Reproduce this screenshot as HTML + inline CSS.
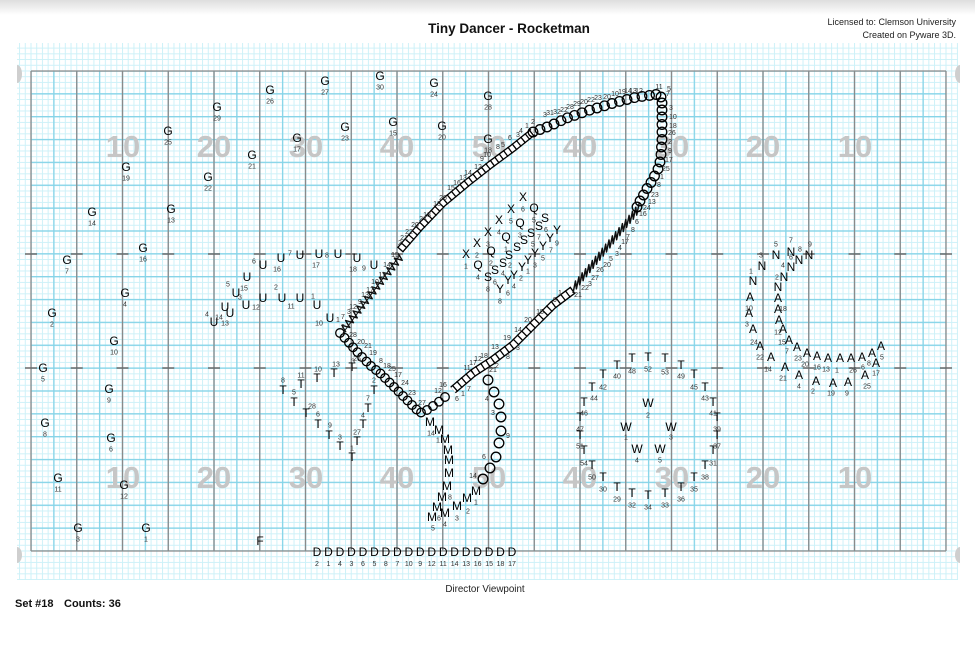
<!DOCTYPE html>
<html><head><meta charset="utf-8">
<style>
html,body{margin:0;padding:0;background:#fff;}
body{width:975px;height:658px;overflow:hidden;}
svg{display:block;}
text{font-family:"Liberation Sans",Arial,sans-serif;}
.L{font-size:12px;fill:#000;text-anchor:middle;}
.n{font-size:7px;fill:#333;text-anchor:middle;}
.s{font-size:7px;fill:#333;text-anchor:start;}
.y{font-size:31px;font-weight:bold;fill:#c6c6c6;text-anchor:middle;}
</style></head>
<body>
<svg width="975" height="658" viewBox="0 0 975 658" xmlns="http://www.w3.org/2000/svg">
<defs>
<linearGradient id="tg" x1="0" y1="0" x2="0" y2="1"><stop offset="0" stop-color="#dedede"/><stop offset="1" stop-color="#fff"/></linearGradient>
<pattern id="fine" x="30.5" y="70.5" width="5.71875" height="5.7142857" patternUnits="userSpaceOnUse"><path d="M0 0.5H6M0.5 0V6" stroke="#cdf1f8" stroke-width="1" fill="none"/></pattern>
<pattern id="med" x="30.3" y="70.3" width="22.875" height="22.857" patternUnits="userSpaceOnUse"><path d="M0 0.7H23M0.7 0V23" stroke="#86d4e8" stroke-width="1.3" fill="none"/></pattern>
</defs>
<rect x="0" y="0" width="975" height="15" fill="url(#tg)"/>
<rect x="17" y="43" width="941" height="537" fill="url(#fine)"/>
<rect x="31" y="71" width="915" height="480" fill="url(#med)"/>
<g stroke="#8a8a8a" stroke-width="1.3">
<line x1="31" y1="71" x2="946" y2="71"/><line x1="31" y1="551" x2="946" y2="551"/>
<line x1="31" y1="71" x2="31" y2="551"/><line x1="76.75" y1="71" x2="76.75" y2="551"/><line x1="122.5" y1="71" x2="122.5" y2="551"/><line x1="168.25" y1="71" x2="168.25" y2="551"/><line x1="214" y1="71" x2="214" y2="551"/><line x1="259.75" y1="71" x2="259.75" y2="551"/><line x1="305.5" y1="71" x2="305.5" y2="551"/><line x1="351.25" y1="71" x2="351.25" y2="551"/><line x1="397" y1="71" x2="397" y2="551"/><line x1="442.75" y1="71" x2="442.75" y2="551"/><line x1="488.5" y1="71" x2="488.5" y2="551"/><line x1="534.25" y1="71" x2="534.25" y2="551"/><line x1="580" y1="71" x2="580" y2="551"/><line x1="625.75" y1="71" x2="625.75" y2="551"/><line x1="671.5" y1="71" x2="671.5" y2="551"/><line x1="717.25" y1="71" x2="717.25" y2="551"/><line x1="763" y1="71" x2="763" y2="551"/><line x1="808.75" y1="71" x2="808.75" y2="551"/><line x1="854.5" y1="71" x2="854.5" y2="551"/><line x1="900.25" y1="71" x2="900.25" y2="551"/><line x1="946" y1="71" x2="946" y2="551"/>
</g>
<g stroke="#6a6a6a" stroke-width="1.4">
<path d="M25 254H37M70.75 254H82.75M116.5 254H128.5M162.25 254H174.25M208 254H220M253.75 254H265.75M299.5 254H311.5M345.25 254H357.25M391 254H403M436.75 254H448.75M482.5 254H494.5M528.25 254H540.25M574 254H586M619.75 254H631.75M665.5 254H677.5M711.25 254H723.25M757 254H769M802.75 254H814.75M848.5 254H860.5M894.25 254H906.25M940 254H952"/>
<path d="M25 368H37M70.75 368H82.75M116.5 368H128.5M162.25 368H174.25M208 368H220M253.75 368H265.75M299.5 368H311.5M345.25 368H357.25M391 368H403M436.75 368H448.75M482.5 368H494.5M528.25 368H540.25M574 368H586M619.75 368H631.75M665.5 368H677.5M711.25 368H723.25M757 368H769M802.75 368H814.75M848.5 368H860.5M894.25 368H906.25M940 368H952"/>
</g>
<g fill="#cfcfcf">
<path d="M17 65A5 9 0 0 1 17 83Z"/><path d="M17 547A5 8 0 0 1 17 563Z"/>
<path d="M960 65A5 9 0 0 0 960 83Z"/><path d="M960 547A5 8 0 0 0 960 563Z"/>
</g>
<!-- yard numbers -->
<text class="y" x="123" y="157">10</text><text class="y" x="214" y="157">20</text><text class="y" x="306" y="157">30</text><text class="y" x="397" y="157">40</text><text class="y" x="489" y="157">50</text><text class="y" x="580" y="157">40</text><text class="y" x="672" y="157">30</text><text class="y" x="763" y="157">20</text><text class="y" x="855" y="157">10</text>
<text class="y" x="123" y="488">10</text><text class="y" x="214" y="488">20</text><text class="y" x="306" y="488">30</text><text class="y" x="397" y="488">40</text><text class="y" x="489" y="488">50</text><text class="y" x="580" y="488">40</text><text class="y" x="672" y="488">30</text><text class="y" x="763" y="488">20</text><text class="y" x="855" y="488">10</text>

<!-- titles -->
<text x="509" y="33" style="font-size:13.5px;font-weight:bold;fill:#111;text-anchor:middle">Tiny Dancer - Rocketman</text>
<text x="956" y="25" style="font-size:9px;fill:#222;text-anchor:end">Licensed to: Clemson University</text>
<text x="956" y="38" style="font-size:9px;fill:#222;text-anchor:end">Created on Pyware 3D.</text>
<text x="485" y="592" style="font-size:9.8px;fill:#222;text-anchor:middle">Director Viewpoint</text>
<text x="15" y="607" style="font-size:11px;font-weight:bold;fill:#111">Set #18</text>
<text x="64" y="607" style="font-size:11px;font-weight:bold;fill:#111">Counts: 36</text>

<!-- ladder chains (squares) -->
<g fill="none" stroke-linejoin="round">
<path d="M400,250 L420,227 L443,203 L467,183 L490,165 L513,148 L533,132" stroke="#000" stroke-width="8"/>
<path d="M400,250 L420,227 L443,203 L467,183 L490,165 L513,148 L533,132" stroke="#fff" stroke-width="5.4"/>
<path d="M400,250 L420,227 L443,203 L467,183 L490,165 L513,148 L533,132" stroke="#000" stroke-width="8" stroke-dasharray="1.3 4.2"/>
<path d="M573,290 L553,305 L533,325 L513,345 L493,360 L473,373 L453,390" stroke="#000" stroke-width="8.6"/>
<path d="M573,290 L553,305 L533,325 L513,345 L493,360 L473,373 L453,390" stroke="#fff" stroke-width="6"/>
<path d="M573,290 L553,305 L533,325 L513,345 L493,360 L473,373 L453,390" stroke="#000" stroke-width="8.6" stroke-dasharray="1.3 4.6"/>
<polyline stroke="#111" stroke-width="1.5" points="573,293 575.5,281 576.4,288.9 578.9,276.9 579.7,284.8 582.2,272.8 583.1,280.7 585.6,268.7 586.4,276.6 588.9,264.6 589.8,272.5 592.3,260.5 593.1,268.4 595.6,256.4 596.5,264.3 599,252.3 599.8,260.2 602.3,248.2 603.2,256.1 605.7,244.1 606.5,252 609,240 609.9,247.9 612.4,235.9 613.2,243.8 615.7,231.8 616.6,239.7 619.1,227.7 619.9,235.6 622.4,223.6 623.3,231.5 625.8,219.5 626.6,227.4 629.1,215.4 630,223.3 632.5,211.3 633.3,219.2 635.8,207.2 636.7,215.1 639.2,203.1"/>
<polyline stroke="#111" stroke-width="1.4" points="346,332.3 341.9,325.3 349.75,327.5 345.6,320.5 353.5,322.7 349.4,315.7 357.25,317.9 353.1,310.9 361,313.1 356.9,306.1 364.75,308.3 360.6,301.3 368.5,303.5 364.4,296.5 372.25,298.7 368.1,291.7 376,293.9 371.9,286.9 379.75,289.1 375.6,282.1 383.5,284.3 379.4,277.3 387.25,279.5 383.1,272.5 391,274.7 386.9,267.7 394.75,269.9 390.6,262.9 398.5,265.1 394.4,258.1 402.25,260.3 398.1,253.3"/>
<polyline stroke="#111" stroke-width="1" points="343,333 400,255"/>
</g>
<!-- circle chains -->
<g fill="none" stroke="#000" stroke-width="1.3">
<circle cx="533" cy="132" r="4.8"/><circle cx="540" cy="129.5" r="4.8"/><circle cx="547" cy="127" r="4.8"/><circle cx="554" cy="124" r="4.8"/><circle cx="561" cy="120.7" r="4.8"/><circle cx="567.5" cy="117.8" r="4.8"/><circle cx="574.5" cy="115.4" r="4.8"/><circle cx="582" cy="112.8" r="4.8"/><circle cx="589.5" cy="110.2" r="4.8"/><circle cx="597" cy="108" r="4.8"/><circle cx="604.5" cy="105.8" r="4.8"/><circle cx="612" cy="103.5" r="4.8"/><circle cx="619.5" cy="101.4" r="4.8"/><circle cx="627" cy="99.5" r="4.8"/><circle cx="634.5" cy="97.6" r="4.8"/><circle cx="642" cy="96.4" r="4.8"/><circle cx="649.5" cy="95.4" r="4.8"/><circle cx="656" cy="94.5" r="4.8"/><circle cx="661" cy="97" r="4.8"/><circle cx="662" cy="103" r="4.8"/><circle cx="662" cy="110" r="4.8"/><circle cx="662" cy="117" r="4.8"/><circle cx="662" cy="124.5" r="4.8"/><circle cx="662" cy="132" r="4.8"/><circle cx="662" cy="139.5" r="4.8"/><circle cx="661.5" cy="147" r="4.8"/><circle cx="661" cy="154.5" r="4.8"/><circle cx="660" cy="162" r="4.8"/><circle cx="658" cy="169" r="4.8"/><circle cx="654.5" cy="176" r="4.8"/><circle cx="651" cy="182.5" r="4.8"/><circle cx="647" cy="188.5" r="4.8"/><circle cx="643.5" cy="195" r="4.8"/><circle cx="640" cy="201" r="4.8"/><circle cx="637" cy="207" r="4.8"/>
<circle cx="340" cy="333" r="4.3"/><circle cx="344.5" cy="337.8" r="4.3"/><circle cx="349" cy="342.7" r="4.3"/><circle cx="353" cy="347.3" r="4.3"/><circle cx="357.5" cy="352.2" r="4.3"/><circle cx="362" cy="357" r="4.3"/><circle cx="366.5" cy="361.5" r="4.3"/><circle cx="371" cy="366" r="4.3"/><circle cx="376" cy="370" r="4.3"/><circle cx="380.5" cy="373.5" r="4.3"/><circle cx="385" cy="378" r="4.3"/><circle cx="389.5" cy="382.5" r="4.3"/><circle cx="394" cy="387" r="4.3"/><circle cx="398.5" cy="391.5" r="4.3"/><circle cx="403" cy="396" r="4.3"/><circle cx="407.5" cy="400.5" r="4.3"/><circle cx="412" cy="405" r="4.3"/><circle cx="416.5" cy="409.5" r="4.3"/><circle cx="421" cy="412.5" r="4.3"/><circle cx="427" cy="410" r="4.3"/><circle cx="433" cy="406" r="4.3"/><circle cx="439" cy="401.7" r="4.3"/><circle cx="445" cy="397" r="4.3"/>
<circle cx="488" cy="380" r="4.8"/><circle cx="494" cy="392" r="4.8"/><circle cx="499" cy="404" r="4.8"/><circle cx="501" cy="417" r="4.8"/><circle cx="501" cy="431" r="4.8"/><circle cx="499" cy="443" r="4.8"/><circle cx="496" cy="457" r="4.8"/><circle cx="490" cy="468" r="4.8"/><circle cx="483" cy="479" r="4.8"/>
</g>

<!-- chain labels -->
<g class="n">
<text x="545" y="117">3</text><text x="550" y="115">31</text><text x="557" y="114">32</text><text x="564" y="112">22</text><text x="570" y="109">28</text><text x="577" y="106">29</text><text x="584" y="104">20</text><text x="591" y="102">22</text><text x="598" y="100">23</text><text x="607" y="99">20</text><text x="615" y="96">10</text><text x="622" y="94">19</text><text x="628" y="93">14</text><text x="633" y="93">13</text><text x="639" y="93">12</text><text x="659" y="89">11</text>
<text x="521" y="133">4</text><text x="527" y="128">1</text><text x="533" y="124">2</text><text x="510" y="140">6</text><text x="518" y="137">3</text><text x="498" y="149">8</text><text x="503" y="147">5</text><text x="487" y="157">10</text><text x="482" y="161">9</text><text x="478" y="169">12</text><text x="468" y="175">14</text><text x="463" y="180">13</text><text x="457" y="185">16</text><text x="451" y="190">15</text><text x="443" y="200">26</text><text x="437" y="206">18</text><text x="427" y="217">18</text><text x="423" y="221">24</text><text x="415" y="227">20</text><text x="409" y="234">22</text><text x="404" y="240">21</text><text x="400" y="245">2</text>
<text x="395" y="257">15</text><text x="387" y="267">14</text><text x="382" y="277">11</text><text x="375" y="284">10</text><text x="370" y="292">17</text><text x="365" y="297">13</text><text x="360" y="304">9</text><text x="353" y="309">12</text><text x="349" y="314">3</text><text x="343" y="319">7</text><text x="338" y="322">1</text><text x="343" y="329">2</text>
<text x="353" y="337">28</text><text x="361" y="344">20</text><text x="368" y="348">21</text><text x="373" y="355">19</text><text x="357" y="361">26</text><text x="381" y="363">8</text><text x="387" y="368">18</text><text x="392" y="371">25</text><text x="398" y="377">17</text><text x="405" y="385">24</text><text x="412" y="395">23</text><text x="422" y="405">27</text>
<text x="443" y="387">16</text><text x="438" y="393">12</text><text x="457" y="401">6</text><text x="463" y="396">1</text><text x="469" y="391">7</text><text x="467" y="370">11</text><text x="473" y="365">17</text><text x="478" y="361">12</text><text x="484" y="358">18</text><text x="493" y="372">21</text><text x="497" y="368">2</text><text x="495" y="349">13</text><text x="508" y="359">8</text><text x="507" y="340">19</text><text x="518" y="350">3</text><text x="518" y="332">14</text><text x="528" y="322">20</text><text x="540" y="314">15</text><text x="555" y="302">9</text><text x="560" y="295">1</text><text x="578" y="297">21</text><text x="585" y="290">22</text><text x="590" y="286">3</text><text x="595" y="280">27</text><text x="600" y="272">26</text><text x="607" y="267">20</text><text x="611" y="261">5</text><text x="617" y="256">3</text><text x="620" y="250">4</text><text x="625" y="244">17</text><text x="628" y="239">7</text><text x="633" y="232">8</text><text x="637" y="224">6</text>
<text x="487" y="401">4</text><text x="493" y="415">3</text><text x="508" y="438">9</text><text x="484" y="459">6</text><text x="473" y="478">14</text>
</g>
<g class="s">
<text x="667" y="91">5</text><text x="666" y="96">7</text><text x="669" y="110">3</text><text x="669" y="119">10</text><text x="669" y="128">18</text><text x="668" y="135">26</text><text x="668" y="144">2</text><text x="668" y="153">9</text><text x="665" y="162">17</text><text x="662" y="171">25</text><text x="660" y="179">1</text><text x="657" y="187">8</text><text x="651" y="197">23</text><text x="648" y="204">13</text><text x="643" y="210">24</text><text x="639" y="216">16</text>
</g>

<!-- G's -->
<g class="L">
<text x="270" y="94">G</text><text x="217" y="111">G</text><text x="168" y="135">G</text><text x="126" y="171">G</text><text x="208" y="181">G</text><text x="252" y="159">G</text><text x="297" y="142">G</text><text x="325" y="85">G</text><text x="380" y="80">G</text><text x="434" y="87">G</text><text x="488" y="100">G</text><text x="345" y="131">G</text><text x="393" y="126">G</text><text x="442" y="130">G</text><text x="488" y="143">G</text>
<text x="92" y="216">G</text><text x="171" y="213">G</text><text x="143" y="252">G</text><text x="67" y="264">G</text><text x="125" y="297">G</text><text x="52" y="317">G</text><text x="114" y="345">G</text><text x="43" y="372">G</text><text x="109" y="393">G</text><text x="45" y="427">G</text><text x="111" y="442">G</text><text x="58" y="482">G</text><text x="124" y="489">G</text><text x="78" y="532">G</text><text x="146" y="532">G</text>
<text x="260" y="545">F</text>
</g>
<g class="n">
<text x="270" y="103.5">26</text><text x="217" y="120.5">29</text><text x="168" y="144.5">25</text><text x="126" y="180.5">19</text><text x="208" y="190.5">22</text><text x="252" y="168.5">21</text><text x="297" y="151.5">17</text><text x="325" y="94.5">27</text><text x="380" y="89.5">30</text><text x="434" y="96.5">24</text><text x="488" y="109.5">28</text><text x="345" y="140.5">23</text><text x="393" y="135.5">15</text><text x="442" y="139.5">20</text><text x="488" y="152.5">18</text>
<text x="92" y="225.5">14</text><text x="171" y="222.5">13</text><text x="143" y="261.5">16</text><text x="67" y="273.5">7</text><text x="125" y="306.5">4</text><text x="52" y="326.5">2</text><text x="114" y="354.5">10</text><text x="43" y="381.5">5</text><text x="109" y="402.5">9</text><text x="45" y="436.5">8</text><text x="111" y="451.5">6</text><text x="58" y="491.5">11</text><text x="124" y="498.5">12</text><text x="78" y="541.5">3</text><text x="146" y="541.5">1</text>
</g>

<!-- U's -->
<g class="L">
<text x="263" y="269">U</text><text x="281" y="262">U</text><text x="300" y="259">U</text><text x="319" y="258">U</text><text x="338" y="258">U</text><text x="357" y="262">U</text><text x="374" y="269">U</text><text x="247" y="281">U</text><text x="236" y="297">U</text><text x="246" y="309">U</text><text x="263" y="302">U</text><text x="225" y="311">U</text><text x="230" y="317">U</text><text x="214" y="326">U</text><text x="282" y="302">U</text><text x="300" y="302">U</text><text x="317" y="309">U</text><text x="330" y="322">U</text>
</g>
<g class="n">
<text x="254" y="263.5">6</text><text x="277" y="271.5">16</text><text x="290" y="255.5">7</text><text x="316" y="267.5">17</text><text x="327" y="257.5">8</text><text x="353" y="271.5">18</text><text x="364" y="270.5">9</text><text x="244" y="290.5">15</text><text x="228" y="286.5">5</text><text x="240" y="299.5">3</text><text x="256" y="309.5">12</text><text x="219" y="319.5">14</text><text x="225" y="325.5">13</text><text x="207" y="316.5">4</text><text x="276" y="289.5">2</text><text x="291" y="308.5">11</text><text x="313" y="298.5">1</text><text x="319" y="325.5">10</text>
</g>

<!-- X Q S Y -->
<g class="L">
<text x="523" y="201">X</text><text x="511" y="213">X</text><text x="499" y="224">X</text><text x="488" y="236">X</text><text x="477" y="247">X</text><text x="466" y="258">X</text>
<text x="534" y="212">Q</text><text x="520" y="227">Q</text><text x="506" y="241">Q</text><text x="491" y="255">Q</text><text x="478" y="269">Q</text>
<text x="545" y="222">S</text><text x="539" y="230">S</text><text x="531" y="237">S</text><text x="524" y="244">S</text><text x="517" y="251">S</text><text x="509" y="259">S</text><text x="503" y="267">S</text><text x="495" y="274">S</text><text x="488" y="281">S</text>
<text x="557" y="234">Y</text><text x="550" y="242">Y</text><text x="543" y="250">Y</text><text x="535" y="257">Y</text><text x="528" y="264">Y</text><text x="522" y="271">Y</text><text x="514" y="279">Y</text><text x="508" y="284">Y</text><text x="500" y="293">Y</text>
</g>
<g class="n">
<text x="523" y="211.5">6</text><text x="511" y="223.5">5</text><text x="499" y="234.5">4</text><text x="488" y="246.5">3</text><text x="477" y="257.5">2</text><text x="466" y="268.5">1</text>
<text x="534" y="222.5">5</text><text x="520" y="237.5">3</text><text x="506" y="251.5">1</text><text x="491" y="265.5">2</text><text x="478" y="279.5">4</text>
<text x="546" y="232">6</text><text x="539" y="239.5">7</text><text x="533" y="246.5">5</text><text x="510" y="267.5">2</text><text x="503" y="275.5">4</text><text x="495" y="284.5">6</text><text x="488" y="291.5">8</text>
<text x="557" y="245.5">9</text><text x="551" y="252.5">7</text><text x="543" y="260.5">5</text><text x="535" y="267.5">3</text><text x="528" y="273.5">1</text><text x="521" y="280.5">2</text><text x="514" y="288.5">4</text><text x="508" y="295.5">6</text><text x="500" y="303.5">8</text>
</g>

<!-- left T's -->
<g class="L">
<text x="283" y="394">T</text><text x="301" y="388">T</text><text x="317" y="382">T</text><text x="334" y="377">T</text><text x="352" y="371">T</text><text x="294" y="406">T</text><text x="306" y="417">T</text><text x="318" y="428">T</text><text x="329" y="439">T</text><text x="340" y="450">T</text><text x="352" y="461">T</text><text x="357" y="445">T</text><text x="363" y="428">T</text><text x="368" y="412">T</text><text x="374" y="394">T</text>
</g>
<g class="n">
<text x="283" y="382.5">8</text><text x="301" y="377.5">11</text><text x="318" y="371.5">10</text><text x="336" y="366.5">13</text><text x="353" y="363.5">3</text><text x="294" y="394.5">5</text><text x="312" y="408.5">28</text><text x="318" y="416.5">6</text><text x="330" y="427.5">9</text><text x="340" y="439.5">3</text><text x="352" y="450.5">1</text><text x="357" y="434.5">27</text><text x="363" y="417.5">4</text><text x="368" y="400.5">7</text><text x="374" y="382.5">2</text>
</g>

<!-- M's -->
<g class="L">
<text x="430" y="426">M</text><text x="439" y="434">M</text><text x="445" y="443">M</text><text x="448" y="454">M</text><text x="449" y="464">M</text><text x="449" y="477">M</text><text x="447" y="490">M</text><text x="442" y="501">M</text><text x="437" y="511">M</text><text x="432" y="521">M</text><text x="445" y="517">M</text><text x="457" y="510">M</text><text x="467" y="502">M</text><text x="476" y="495">M</text>
</g>
<g class="n">
<text x="431" y="435.5">14</text><text x="438" y="442.5">1</text><text x="450" y="499.5">8</text><text x="433" y="530.5">5</text><text x="445" y="526.5">4</text><text x="457" y="520.5">3</text><text x="468" y="513.5">2</text><text x="476" y="504.5">1</text><text x="439" y="520.5">6</text>
</g>

<!-- right T's and W's -->
<g class="L">
<text x="632" y="362">T</text><text x="648" y="361">T</text><text x="665" y="362">T</text><text x="617" y="369">T</text><text x="681" y="369">T</text><text x="603" y="378">T</text><text x="694" y="378">T</text><text x="592" y="391">T</text><text x="705" y="391">T</text><text x="584" y="406">T</text><text x="713" y="406">T</text><text x="580" y="421">T</text><text x="717" y="421">T</text><text x="580" y="439">T</text><text x="717" y="439">T</text><text x="584" y="454">T</text><text x="713" y="454">T</text><text x="592" y="469">T</text><text x="705" y="469">T</text><text x="603" y="481">T</text><text x="694" y="481">T</text><text x="617" y="491">T</text><text x="681" y="491">T</text><text x="632" y="497">T</text><text x="665" y="497">T</text><text x="648" y="499">T</text>
<text x="648" y="407">W</text><text x="626" y="431">W</text><text x="671" y="431">W</text><text x="637" y="453">W</text><text x="660" y="453">W</text>
</g>
<g class="n">
<text x="632" y="373.5">48</text><text x="648" y="371.5">52</text><text x="665" y="374.5">53</text><text x="617" y="378.5">40</text><text x="681" y="378.5">49</text><text x="603" y="389.5">42</text><text x="694" y="389.5">45</text><text x="594" y="400.5">44</text><text x="705" y="400.5">43</text><text x="584" y="415.5">46</text><text x="713" y="415.5">41</text><text x="580" y="431.5">47</text><text x="717" y="431.5">39</text><text x="580" y="448.5">51</text><text x="717" y="448.5">37</text><text x="584" y="465.5">54</text><text x="713" y="465.5">31</text><text x="592" y="479.5">50</text><text x="705" y="479.5">38</text><text x="603" y="491.5">30</text><text x="694" y="491.5">35</text><text x="617" y="501.5">29</text><text x="681" y="501.5">36</text><text x="632" y="507.5">32</text><text x="665" y="507.5">33</text><text x="648" y="509.5">34</text>
<text x="648" y="417.5">2</text><text x="626" y="439.5">1</text><text x="671" y="439.5">3</text><text x="637" y="462.5">4</text><text x="660" y="462.5">5</text>
</g>

<!-- N's and A's -->
<g class="L">
<text x="753" y="285">N</text><text x="762" y="270">N</text><text x="776" y="259">N</text><text x="791" y="256">N</text><text x="799" y="264">N</text><text x="809" y="259">N</text><text x="791" y="271">N</text><text x="784" y="281">N</text><text x="778" y="291">N</text>
<text x="750" y="301">A</text><text x="749" y="317">A</text><text x="753" y="333">A</text><text x="760" y="350">A</text><text x="771" y="361">A</text><text x="778" y="302">A</text><text x="778" y="313">A</text><text x="779" y="324">A</text><text x="783" y="333">A</text><text x="789" y="344">A</text><text x="797" y="351">A</text><text x="807" y="357">A</text><text x="817" y="360">A</text><text x="828" y="362">A</text><text x="840" y="362">A</text><text x="851" y="362">A</text><text x="862" y="361">A</text><text x="872" y="357">A</text><text x="881" y="350">A</text><text x="876" y="367">A</text><text x="785" y="371">A</text><text x="799" y="379">A</text><text x="816" y="385">A</text><text x="833" y="387">A</text><text x="848" y="386">A</text><text x="865" y="379">A</text>
</g>
<g class="n">
<text x="751" y="273.5">1</text><text x="761" y="257.5">3</text><text x="776" y="246.5">5</text><text x="791" y="242.5">7</text><text x="800" y="251.5">8</text><text x="810" y="246.5">9</text><text x="791" y="259.5">6</text><text x="783" y="267.5">4</text><text x="777" y="279.5">2</text>
<text x="749" y="310.5">10</text><text x="747" y="326.5">3</text><text x="754" y="344.5">24</text><text x="760" y="359.5">22</text><text x="768" y="371.5">14</text><text x="783" y="311">18</text><text x="778" y="334.5">12</text><text x="782" y="344.5">15</text><text x="787" y="353.5">7</text><text x="798" y="360.5">23</text><text x="805" y="366.5">20</text><text x="817" y="369.5">16</text><text x="826" y="371.5">13</text><text x="837" y="372.5">1</text><text x="853" y="372.5">26</text><text x="863" y="369.5">6</text><text x="869" y="365.5">8</text><text x="882" y="359.5">5</text><text x="876" y="375.5">17</text><text x="783" y="380.5">21</text><text x="799" y="388.5">4</text><text x="813" y="393.5">2</text><text x="831" y="395.5">19</text><text x="847" y="395.5">9</text><text x="867" y="388.5">25</text>
</g>

<!-- D row -->
<g class="L">
<text x="317" y="556">D</text><text x="328.5" y="556">D</text><text x="339.9" y="556">D</text><text x="351.4" y="556">D</text><text x="362.9" y="556">D</text><text x="374.4" y="556">D</text><text x="385.8" y="556">D</text><text x="397.3" y="556">D</text><text x="408.8" y="556">D</text><text x="420.2" y="556">D</text><text x="431.7" y="556">D</text><text x="443.2" y="556">D</text><text x="454.6" y="556">D</text><text x="466.1" y="556">D</text><text x="477.6" y="556">D</text><text x="489.1" y="556">D</text><text x="500.5" y="556">D</text><text x="512" y="556">D</text>
</g>
<g class="n">
<text x="317" y="566">2</text><text x="328.5" y="566">1</text><text x="339.9" y="566">4</text><text x="351.4" y="566">3</text><text x="362.9" y="566">6</text><text x="374.4" y="566">5</text><text x="385.8" y="566">8</text><text x="397.3" y="566">7</text><text x="408.8" y="566">10</text><text x="420.2" y="566">9</text><text x="431.7" y="566">12</text><text x="443.2" y="566">11</text><text x="454.6" y="566">14</text><text x="466.1" y="566">13</text><text x="477.6" y="566">16</text><text x="489.1" y="566">15</text><text x="500.5" y="566">18</text><text x="512" y="566">17</text>
</g>
</svg>
</body></html>
